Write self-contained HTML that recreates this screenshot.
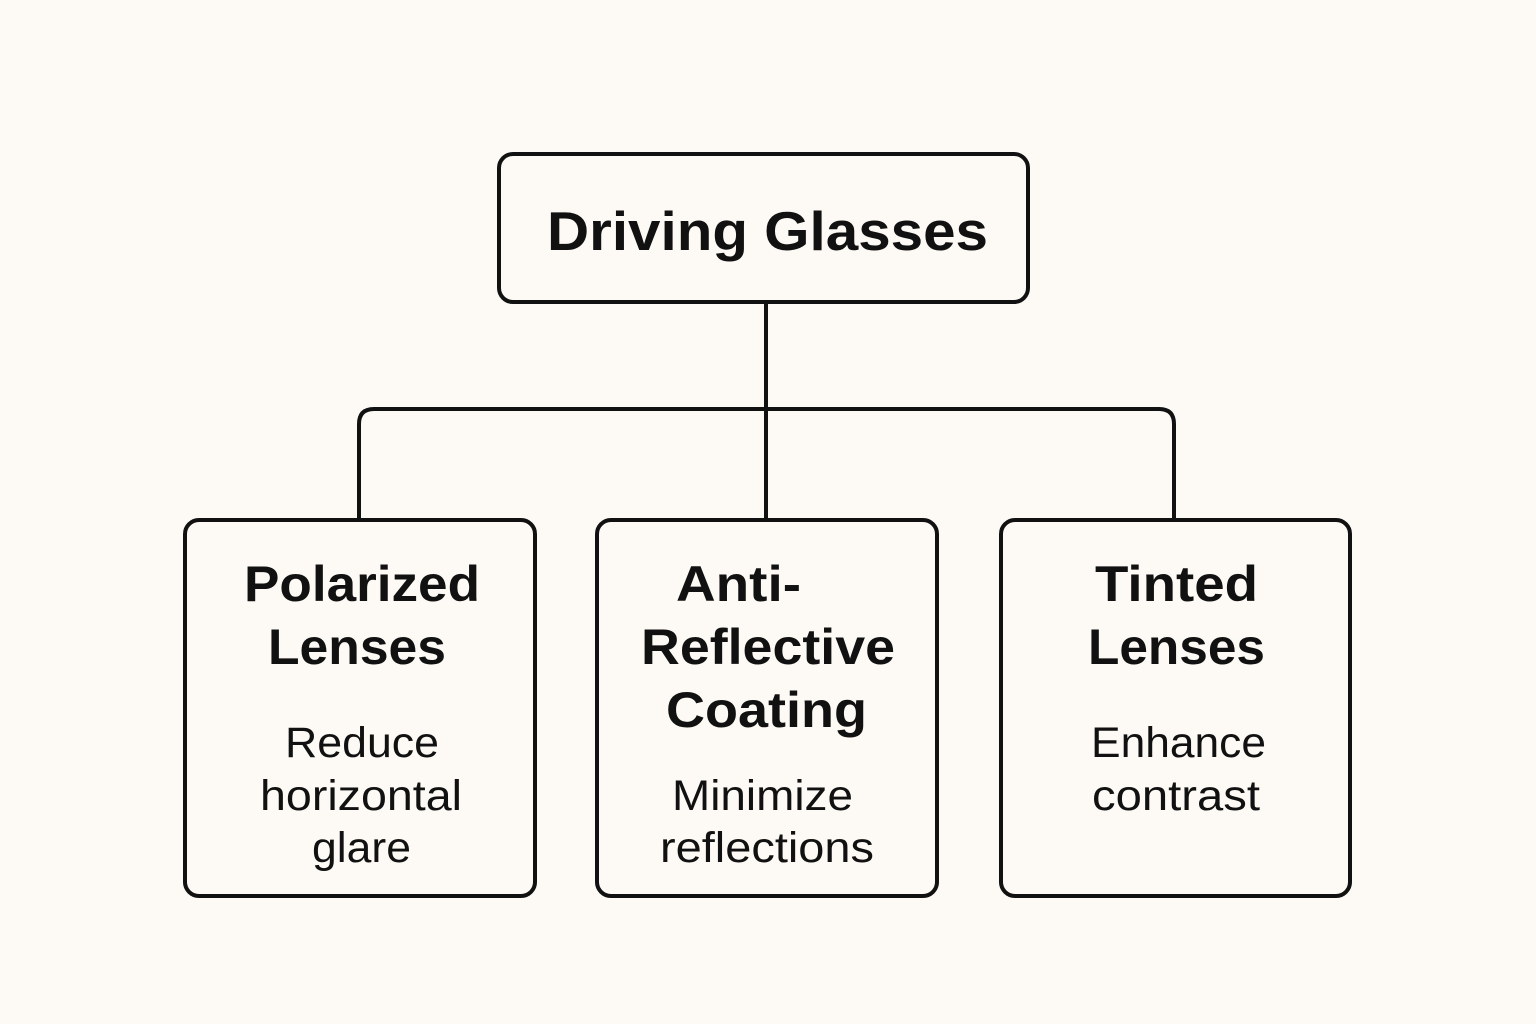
<!DOCTYPE html>
<html><head><meta charset="utf-8"><style>
html,body{margin:0;padding:0;background:#fdfaf5;}
svg{display:block}
text{font-family:"Liberation Sans","DejaVu Sans",sans-serif;fill:#111;text-anchor:middle}
.h{font-size:55px;font-weight:600}
.t{font-size:50px;font-weight:600}
.s{font-size:43px}
</style></head><body>
<svg width="1536" height="1024" viewBox="0 0 1536 1024">
<rect width="1536" height="1024" fill="#fdfaf5"/>
<g fill="none" stroke="#111" stroke-width="4">
<rect x="499" y="154" width="529" height="148" rx="14"/>
<rect x="185" y="520" width="350" height="376" rx="14"/>
<rect x="597" y="520" width="340" height="376" rx="14"/>
<rect x="1001" y="520" width="349" height="376" rx="14"/>
<path d="M766 302 V520"/>
<path d="M359 520 V424 Q359 409 374 409 H1159 Q1174 409 1174 424 V520"/>
</g>
<text class="h" x="767.5" y="250" textLength="441" lengthAdjust="spacingAndGlyphs">Driving Glasses</text>
<text class="t" x="362" y="601" textLength="236" lengthAdjust="spacingAndGlyphs">Polarized</text>
<text class="t" x="357" y="664" textLength="178" lengthAdjust="spacingAndGlyphs">Lenses</text>
<text class="s" x="362" y="757" textLength="154" lengthAdjust="spacingAndGlyphs">Reduce</text>
<text class="s" x="361" y="810" textLength="202" lengthAdjust="spacingAndGlyphs">horizontal</text>
<text class="s" x="361.5" y="862" textLength="99" lengthAdjust="spacingAndGlyphs">glare</text>
<text class="t" x="738.5" y="601" textLength="125" lengthAdjust="spacingAndGlyphs">Anti-</text>
<text class="t" x="768" y="664" textLength="254" lengthAdjust="spacingAndGlyphs">Reflective</text>
<text class="t" x="766.5" y="727" textLength="201" lengthAdjust="spacingAndGlyphs">Coating</text>
<text class="s" x="762.5" y="810" textLength="181" lengthAdjust="spacingAndGlyphs">Minimize</text>
<text class="s" x="767" y="862" textLength="214" lengthAdjust="spacingAndGlyphs">reflections</text>
<text class="t" x="1176.5" y="601" textLength="163" lengthAdjust="spacingAndGlyphs">Tinted</text>
<text class="t" x="1176.5" y="664" textLength="177" lengthAdjust="spacingAndGlyphs">Lenses</text>
<text class="s" x="1178.5" y="757" textLength="175" lengthAdjust="spacingAndGlyphs">Enhance</text>
<text class="s" x="1176" y="810" textLength="168" lengthAdjust="spacingAndGlyphs">contrast</text>
</svg>
</body></html>
